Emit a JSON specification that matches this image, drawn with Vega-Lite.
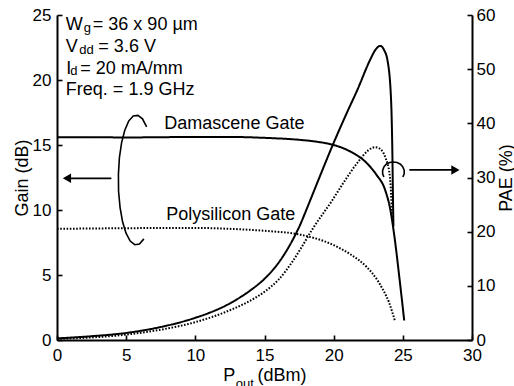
{
  "$schema": "https://vega.github.io/schema/vega-lite/v6.json",
  "width": 415,
  "height": 325,
  "autosize": {"type": "none"},
  "padding": {"left": 57, "top": 15, "right": 42, "bottom": 46},
  "background": "white",
  "config": {
    "view": {"stroke": null},
    "font": "Liberation Sans",
    "axis": {
      "domainColor": "black",
      "domainWidth": 2,
      "tickColor": "black",
      "tickWidth": 1.6,
      "tickSize": -5,
      "labelColor": "black",
      "labelFont": "Liberation Sans",
      "labelFontSize": 17,
      "titleFont": "Liberation Sans",
      "titleFontSize": 18,
      "titleFontWeight": "normal",
      "titleColor": "black",
      "grid": false
    }
  },
  "datasets": {
    "gain": [
      {"gate": "Damascene", "x": 0, "g": 15.6},
      {"gate": "Damascene", "x": 2.5, "g": 15.6},
      {"gate": "Damascene", "x": 5, "g": 15.58},
      {"gate": "Damascene", "x": 7.5, "g": 15.6},
      {"gate": "Damascene", "x": 10, "g": 15.62},
      {"gate": "Damascene", "x": 12.5, "g": 15.62},
      {"gate": "Damascene", "x": 15, "g": 15.55},
      {"gate": "Damascene", "x": 17.5, "g": 15.4},
      {"gate": "Damascene", "x": 18.8, "g": 15.25},
      {"gate": "Damascene", "x": 20, "g": 15.0},
      {"gate": "Damascene", "x": 21.2, "g": 14.5},
      {"gate": "Damascene", "x": 22.4, "g": 13.6},
      {"gate": "Damascene", "x": 23.1, "g": 12.7},
      {"gate": "Damascene", "x": 23.7, "g": 11.6},
      {"gate": "Damascene", "x": 24.1, "g": 10.0},
      {"gate": "Damascene", "x": 24.4, "g": 7.9},
      {"gate": "Damascene", "x": 24.75, "g": 4.8},
      {"gate": "Damascene", "x": 25.1, "g": 1.5},
      {"gate": "Polysilicon", "x": 0, "g": 8.55},
      {"gate": "Polysilicon", "x": 5, "g": 8.6},
      {"gate": "Polysilicon", "x": 10, "g": 8.62},
      {"gate": "Polysilicon", "x": 12.5, "g": 8.55},
      {"gate": "Polysilicon", "x": 15, "g": 8.4},
      {"gate": "Polysilicon", "x": 17.6, "g": 8.1},
      {"gate": "Polysilicon", "x": 20, "g": 7.3},
      {"gate": "Polysilicon", "x": 21.2, "g": 6.6},
      {"gate": "Polysilicon", "x": 22.4, "g": 5.6},
      {"gate": "Polysilicon", "x": 23.1, "g": 4.7},
      {"gate": "Polysilicon", "x": 23.6, "g": 3.8},
      {"gate": "Polysilicon", "x": 24.0, "g": 2.9},
      {"gate": "Polysilicon", "x": 24.25, "g": 2.1},
      {"gate": "Polysilicon", "x": 24.45, "g": 1.4}
    ],
    "pae": [
      {"gate": "Damascene", "x": 0, "p": 0.3},
      {"gate": "Damascene", "x": 2.5, "p": 0.7},
      {"gate": "Damascene", "x": 5, "p": 1.3},
      {"gate": "Damascene", "x": 7.5, "p": 2.4},
      {"gate": "Damascene", "x": 10, "p": 4.1},
      {"gate": "Damascene", "x": 11, "p": 5.0},
      {"gate": "Damascene", "x": 12, "p": 6.1},
      {"gate": "Damascene", "x": 13, "p": 7.5},
      {"gate": "Damascene", "x": 14, "p": 9.2},
      {"gate": "Damascene", "x": 15, "p": 11.3},
      {"gate": "Damascene", "x": 16, "p": 14.2},
      {"gate": "Damascene", "x": 17, "p": 18.3},
      {"gate": "Damascene", "x": 17.6, "p": 21.4},
      {"gate": "Damascene", "x": 18.1, "p": 24.5},
      {"gate": "Damascene", "x": 19, "p": 30.2},
      {"gate": "Damascene", "x": 20, "p": 36.4},
      {"gate": "Damascene", "x": 21, "p": 42.2},
      {"gate": "Damascene", "x": 21.7, "p": 46.1},
      {"gate": "Damascene", "x": 22.65, "p": 51.8},
      {"gate": "Damascene", "x": 23.0, "p": 53.5},
      {"gate": "Damascene", "x": 23.37, "p": 54.3},
      {"gate": "Damascene", "x": 23.65, "p": 53.5},
      {"gate": "Damascene", "x": 23.9, "p": 51.5},
      {"gate": "Damascene", "x": 24.15, "p": 44.3},
      {"gate": "Damascene", "x": 24.24, "p": 35.1},
      {"gate": "Damascene", "x": 24.29, "p": 25.8},
      {"gate": "Damascene", "x": 24.32, "p": 21.0},
      {"gate": "Polysilicon", "x": 0, "p": 0.2},
      {"gate": "Polysilicon", "x": 5, "p": 1.0},
      {"gate": "Polysilicon", "x": 7.5, "p": 1.9},
      {"gate": "Polysilicon", "x": 10, "p": 3.3},
      {"gate": "Polysilicon", "x": 12.5, "p": 5.5},
      {"gate": "Polysilicon", "x": 14, "p": 7.3},
      {"gate": "Polysilicon", "x": 15, "p": 8.9},
      {"gate": "Polysilicon", "x": 16, "p": 11.1},
      {"gate": "Polysilicon", "x": 17, "p": 14.4},
      {"gate": "Polysilicon", "x": 17.6, "p": 16.8},
      {"gate": "Polysilicon", "x": 18.5, "p": 20.6},
      {"gate": "Polysilicon", "x": 19.9, "p": 25.8},
      {"gate": "Polysilicon", "x": 20.7, "p": 29.0},
      {"gate": "Polysilicon", "x": 21.8, "p": 33.0},
      {"gate": "Polysilicon", "x": 22.5, "p": 35.0},
      {"gate": "Polysilicon", "x": 23.0, "p": 35.6},
      {"gate": "Polysilicon", "x": 23.4, "p": 35.2},
      {"gate": "Polysilicon", "x": 23.75, "p": 33.6},
      {"gate": "Polysilicon", "x": 24.05, "p": 30.5},
      {"gate": "Polysilicon", "x": 24.15, "p": 27.0},
      {"gate": "Polysilicon", "x": 24.22, "p": 22.5}
    ],
    "arcs": [
      {"id": "L", "o": 0, "x": 6.48, "g": 16.40},
      {"id": "L", "o": 1, "x": 6.18, "g": 17.01},
      {"id": "L", "o": 2, "x": 5.85, "g": 17.28},
      {"id": "L", "o": 3, "x": 5.51, "g": 17.23},
      {"id": "L", "o": 4, "x": 5.18, "g": 16.84},
      {"id": "L", "o": 5, "x": 4.90, "g": 16.14},
      {"id": "L", "o": 6, "x": 4.67, "g": 15.18},
      {"id": "L", "o": 7, "x": 4.51, "g": 14.02},
      {"id": "L", "o": 8, "x": 4.44, "g": 12.75},
      {"id": "L", "o": 9, "x": 4.45, "g": 11.44},
      {"id": "L", "o": 10, "x": 4.56, "g": 10.19},
      {"id": "L", "o": 11, "x": 4.74, "g": 9.09},
      {"id": "L", "o": 12, "x": 4.99, "g": 8.22},
      {"id": "L", "o": 13, "x": 5.29, "g": 7.61},
      {"id": "L", "o": 14, "x": 5.62, "g": 7.33},
      {"id": "L", "o": 15, "x": 5.96, "g": 7.38},
      {"id": "L", "o": 16, "x": 6.28, "g": 7.78},
      {"id": "R", "o": 0, "x": 25.00, "g": 12.54},
      {"id": "R", "o": 1, "x": 25.10, "g": 12.79},
      {"id": "R", "o": 2, "x": 25.10, "g": 13.05},
      {"id": "R", "o": 3, "x": 25.00, "g": 13.31},
      {"id": "R", "o": 4, "x": 24.83, "g": 13.52},
      {"id": "R", "o": 5, "x": 24.59, "g": 13.65},
      {"id": "R", "o": 6, "x": 24.32, "g": 13.69},
      {"id": "R", "o": 7, "x": 24.04, "g": 13.65},
      {"id": "R", "o": 8, "x": 23.80, "g": 13.52},
      {"id": "R", "o": 9, "x": 23.63, "g": 13.31},
      {"id": "R", "o": 10, "x": 23.54, "g": 13.05},
      {"id": "R", "o": 11, "x": 23.54, "g": 12.79},
      {"id": "R", "o": 12, "x": 23.63, "g": 12.54}
    ],
    "arrows": [
      {"dir": "left", "x": 0.72, "x2": 3.93, "g": 12.44},
      {"dir": "right", "x": 28.8, "x2": 25.47, "g": 13.08}
    ],
    "labels": [
      {"t": "W", "x": 0.64, "g": 23.85},
      {"t": "= 36 x 90 µm", "x": 2.59, "g": 23.85},
      {"t": "V", "x": 0.64, "g": 22.12},
      {"t": "= 3.6 V", "x": 2.99, "g": 22.12},
      {"t": "I", "x": 0.67, "g": 20.5},
      {"t": "= 20 mA/mm", "x": 1.68, "g": 20.5},
      {"t": "Freq. = 1.9 GHz", "x": 0.64, "g": 18.85},
      {"t": "Damascene Gate", "x": 7.76, "g": 16.21},
      {"t": "Polysilicon Gate", "x": 7.9, "g": 9.23},
      {"t": "P", "x": 12.02, "g": -3.15},
      {"t": "(dBm)", "x": 14.5, "g": -3.15}
    ],
    "subs": [
      {"t": "g", "x": 1.94, "g": 23.69},
      {"t": "dd", "x": 1.61, "g": 21.98},
      {"t": "d", "x": 0.96, "g": 20.38},
      {"t": "out", "x": 12.93, "g": -3.7}
    ]
  },
  "layer": [
    {
      "layer": [
        {
          "data": {"name": "gain"},
          "mark": {"type": "line", "color": "black", "strokeWidth": 2, "strokeCap": "butt", "interpolate": "monotone"},
          "encoding": {
            "x": {"field": "x", "type": "quantitative", "scale": {"domain": [0, 30], "nice": false}, "axis": {"values": [0, 5, 10, 15, 20, 25, 30], "title": null, "labelPadding": 12, "labelFlush": false}},
            "y": {"field": "g", "type": "quantitative", "scale": {"domain": [0, 25], "nice": false}, "axis": {"values": [0, 5, 10, 15, 20, 25], "title": "Gain (dB)", "labelPadding": 11, "titleAngle": 270, "titleX": -35, "titleY": 162.5, "titleBaseline": "middle", "titleAlign": "center", "labelFlush": false}},
            "strokeDash": {"field": "gate", "type": "nominal", "scale": {"domain": ["Damascene", "Polysilicon"], "range": [[1, 0], [1.6, 1.6]]}, "legend": null}
          }
        },
        {
          "data": {"name": "arcs"},
          "mark": {"type": "line", "color": "black", "strokeWidth": 1.6},
          "encoding": {
            "x": {"field": "x", "type": "quantitative", "scale": {"domain": [0, 30], "nice": false}, "axis": {"values": [0, 5, 10, 15, 20, 25, 30], "title": null, "labelPadding": 12, "labelFlush": false}},
            "y": {"field": "g", "type": "quantitative", "scale": {"domain": [0, 25], "nice": false}, "axis": {"values": [0, 5, 10, 15, 20, 25], "title": "Gain (dB)", "labelPadding": 11, "titleAngle": 270, "titleX": -35, "titleY": 162.5, "titleBaseline": "middle", "titleAlign": "center", "labelFlush": false}},
            "detail": {"field": "id"},
            "order": {"field": "o", "type": "quantitative"}
          }
        },
        {
          "data": {"name": "arrows"},
          "mark": {"type": "rule", "color": "black", "strokeWidth": 1.8},
          "encoding": {
            "x": {"field": "x", "type": "quantitative", "scale": {"domain": [0, 30], "nice": false}, "axis": {"values": [0, 5, 10, 15, 20, 25, 30], "title": null, "labelPadding": 12, "labelFlush": false}},
            "x2": {"field": "x2"},
            "y": {"field": "g", "type": "quantitative", "scale": {"domain": [0, 25], "nice": false}, "axis": {"values": [0, 5, 10, 15, 20, 25], "title": "Gain (dB)", "labelPadding": 11, "titleAngle": 270, "titleX": -35, "titleY": 162.5, "titleBaseline": "middle", "titleAlign": "center", "labelFlush": false}}
          }
        },
        {
          "data": {"name": "arrows"},
          "mark": {"type": "point", "filled": true, "color": "black", "opacity": 1, "size": 90},
          "encoding": {
            "x": {"field": "x", "type": "quantitative", "scale": {"domain": [0, 30], "nice": false}, "axis": {"values": [0, 5, 10, 15, 20, 25, 30], "title": null, "labelPadding": 12, "labelFlush": false}},
            "y": {"field": "g", "type": "quantitative", "scale": {"domain": [0, 25], "nice": false}, "axis": {"values": [0, 5, 10, 15, 20, 25], "title": "Gain (dB)", "labelPadding": 11, "titleAngle": 270, "titleX": -35, "titleY": 162.5, "titleBaseline": "middle", "titleAlign": "center", "labelFlush": false}},
            "shape": {"field": "dir", "type": "nominal", "scale": {"domain": ["left", "right"], "range": ["triangle-left", "triangle-right"]}, "legend": null}
          }
        },
        {
          "data": {"name": "labels"},
          "mark": {"type": "text", "align": "left", "baseline": "alphabetic", "fontSize": 18, "color": "black", "font": "Liberation Sans"},
          "encoding": {
            "x": {"field": "x", "type": "quantitative", "scale": {"domain": [0, 30], "nice": false}, "axis": {"values": [0, 5, 10, 15, 20, 25, 30], "title": null, "labelPadding": 12, "labelFlush": false}},
            "y": {"field": "g", "type": "quantitative", "scale": {"domain": [0, 25], "nice": false}, "axis": {"values": [0, 5, 10, 15, 20, 25], "title": "Gain (dB)", "labelPadding": 11, "titleAngle": 270, "titleX": -35, "titleY": 162.5, "titleBaseline": "middle", "titleAlign": "center", "labelFlush": false}},
            "text": {"field": "t"}
          }
        },
        {
          "data": {"name": "subs"},
          "mark": {"type": "text", "align": "left", "baseline": "alphabetic", "fontSize": 13, "color": "black", "font": "Liberation Sans"},
          "encoding": {
            "x": {"field": "x", "type": "quantitative", "scale": {"domain": [0, 30], "nice": false}, "axis": {"values": [0, 5, 10, 15, 20, 25, 30], "title": null, "labelPadding": 12, "labelFlush": false}},
            "y": {"field": "g", "type": "quantitative", "scale": {"domain": [0, 25], "nice": false}, "axis": {"values": [0, 5, 10, 15, 20, 25], "title": "Gain (dB)", "labelPadding": 11, "titleAngle": 270, "titleX": -35, "titleY": 162.5, "titleBaseline": "middle", "titleAlign": "center", "labelFlush": false}},
            "text": {"field": "t"}
          }
        }
      ]
    },
    {
      "data": {"name": "pae"},
      "mark": {"type": "line", "color": "black", "strokeWidth": 2, "strokeCap": "butt", "interpolate": "monotone"},
      "encoding": {
        "x": {"field": "x", "type": "quantitative", "scale": {"domain": [0, 30], "nice": false}, "axis": {"values": [0, 5, 10, 15, 20, 25, 30], "title": null, "labelPadding": 12, "labelFlush": false}},
        "y": {"field": "p", "type": "quantitative", "scale": {"domain": [0, 60], "nice": false}, "axis": {"orient": "right", "values": [0, 10, 20, 30, 40, 50, 60], "title": "PAE (%)", "labelPadding": 9, "titleAngle": 270, "titleX": 34.5, "titleY": 162.5, "titleBaseline": "middle", "titleAlign": "center", "labelFlush": false}},
        "strokeDash": {"field": "gate", "type": "nominal", "scale": {"domain": ["Damascene", "Polysilicon"], "range": [[1, 0], [1.6, 1.6]]}, "legend": null}
      }
    }
  ],
  "resolve": {"scale": {"y": "independent", "strokeDash": "shared"}}
}
